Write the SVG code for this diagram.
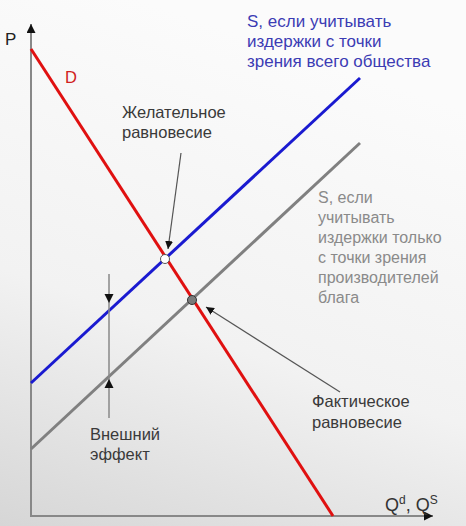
<svg xmlns="http://www.w3.org/2000/svg" width="466" height="526" viewBox="0 0 466 526">
  <defs>
    <linearGradient id="bg" x1="0.3" y1="0" x2="0" y2="1">
      <stop offset="0" stop-color="#fbfbfb"/>
      <stop offset="0.55" stop-color="#f2f2f2"/>
      <stop offset="1" stop-color="#d6d6d6"/>
    </linearGradient>
    <marker id="ah" viewBox="0 0 10 10" refX="10" refY="5" markerWidth="8" markerHeight="8" markerUnits="userSpaceOnUse" orient="auto">
      <path d="M0,0 L10,5 L0,10 z" fill="#111"/>
    </marker>
    <marker id="axh" viewBox="0 0 10 10" refX="10" refY="5" markerWidth="9" markerHeight="9" markerUnits="userSpaceOnUse" orient="auto">
      <path d="M0,0 L10,5 L0,10 z" fill="#111"/>
    </marker>
  </defs>
  <style>
    text { font-family: "Liberation Sans", Arial, sans-serif; font-size: 16.5px; }
    .dark { fill: #3a3a3a; }
    .grey { fill: #8a8a8a; font-size: 16px; }
    .blue { fill: #3c3cb4; font-size: 17px; }
    .ptr { stroke: #555; stroke-width: 1.2; fill: none; marker-end: url(#ah); }
  </style>
  <rect width="466" height="526" fill="url(#bg)"/>

  <g id="axes">
    <line x1="31" y1="517" x2="31" y2="24" stroke="#888" stroke-width="2" marker-end="url(#axh)"/>
    <line x1="30" y1="516" x2="433" y2="516" stroke="#888" stroke-width="2" marker-end="url(#axh)"/>
    <text x="5" y="45" style="font-size:17px" fill="#222">P</text>
    <text x="385" y="511" style="font-size:18px" fill="#333">Q<tspan dy="-7" style="font-size:12px">d</tspan><tspan dy="7">, Q</tspan><tspan dy="-7" style="font-size:12px">S</tspan></text>
  </g>

  <g id="connectors">
    <line id="S-grey" x1="31" y1="449" x2="360" y2="143" stroke="#808080" stroke-width="3"/>
    <line id="S-blue" x1="31" y1="383" x2="360" y2="78" stroke="#1a1ad0" stroke-width="3"/>
    <line id="D" x1="31" y1="49" x2="333" y2="516" stroke="#e01010" stroke-width="3"/>
    <line class="ptr" x1="181" y1="153" x2="168" y2="249"/>
    <line class="ptr" x1="340" y1="392" x2="206" y2="307"/>
    <line x1="109" y1="274" x2="109" y2="418" stroke="#888" stroke-width="1.5"/>
    <path d="M104.5,294 L113.5,294 L109,303 z" fill="#111"/>
    <path d="M104.5,388 L113.5,388 L109,379 z" fill="#111"/>
  </g>

  <g id="desired-eq">
    <circle cx="165" cy="259" r="4.5" fill="#fff" stroke="#555" stroke-width="1"/>
    <text class="dark" x="122" y="118">Желательное</text>
    <text class="dark" x="122" y="138">равновесие</text>
  </g>

  <g id="actual-eq">
    <circle cx="192" cy="300" r="4.5" fill="#7a7a7a" stroke="#333" stroke-width="1"/>
    <text class="dark" x="312" y="407">Фактическое</text>
    <text class="dark" x="312" y="428">равновесие</text>
  </g>

  <g id="label-D">
    <text x="65" y="83" fill="#d02020">D</text>
  </g>

  <g id="label-S-social">
    <text class="blue" x="247" y="27">S, если учитывать</text>
    <text class="blue" x="247" y="47">издержки с точки</text>
    <text class="blue" x="247" y="67">зрения всего общества</text>
  </g>

  <g id="label-S-private">
    <text class="grey" x="318" y="203">S, если</text>
    <text class="grey" x="318" y="223">учитывать</text>
    <text class="grey" x="318" y="243">издержки только</text>
    <text class="grey" x="318" y="263">с точки зрения</text>
    <text class="grey" x="318" y="283">производителей</text>
    <text class="grey" x="318" y="303">блага</text>
  </g>

  <g id="external-effect">
    <text class="dark" x="90" y="440">Внешний</text>
    <text class="dark" x="90" y="460">эффект</text>
  </g>
</svg>
